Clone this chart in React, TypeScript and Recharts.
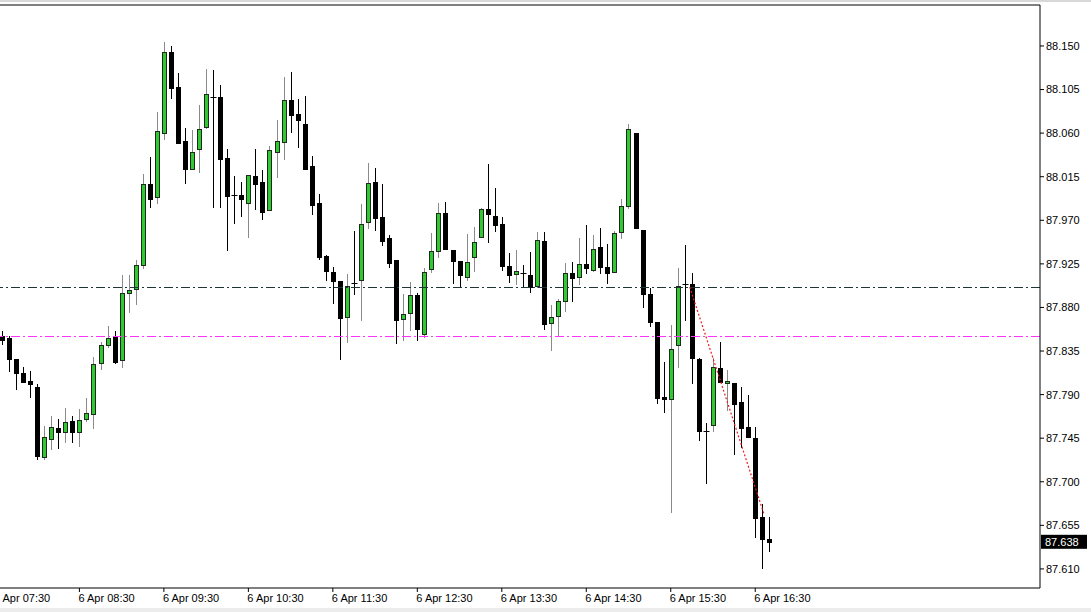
import { ComposedChart, Bar, XAxis, YAxis, ReferenceLine } from 'recharts';

// 5-minute candles, 6 Apr 07:35 .. 16:40
const open = [
  87.850, 87.848, 87.827, 87.812, 87.804, 87.798, 87.726, 87.744, 87.756, 87.751,
  87.763, 87.751, 87.765, 87.770, 87.823, 87.841, 87.849, 87.826, 87.895, 87.899,
  87.924, 88.007, 87.994, 88.060, 88.144, 88.108, 88.052, 88.023, 88.044, 88.066,
  88.097, 88.097, 88.034, 87.996, 87.996, 87.988, 88.016, 88.010, 87.981, 88.041,
  88.051, 88.094, 88.080, 88.069, 88.026, 87.988, 87.933, 87.917, 87.907, 87.870,
  87.905, 87.908, 87.968, 88.010, 87.973, 87.952, 87.929, 87.868, 87.874, 87.893,
  87.853, 87.920, 87.938, 87.978, 87.939, 87.928, 87.911, 87.932, 87.953, 87.982,
  87.974, 87.966, 87.923, 87.915, 87.916, 87.914, 87.902, 87.949, 87.864, 87.871,
  87.887, 87.916, 87.911, 87.925, 87.919, 87.942, 87.922, 87.917, 87.958, 87.985,
  88.060, 87.960, 87.894, 87.865, 87.788, 87.785, 87.841, 87.904, 87.904, 87.827,
  87.752, 87.759, 87.817, 87.802, 87.802, 87.782, 87.757, 87.745, 87.664, 87.641,
];
const high = [
  87.856, 87.850, 87.827, 87.819, 87.814, 87.801, 87.758, 87.768, 87.765, 87.776,
  87.768, 87.775, 87.786, 87.829, 87.844, 87.861, 87.856, 87.914, 87.914, 87.929,
  88.018, 88.035, 88.082, 88.154, 88.150, 88.122, 88.065, 88.063, 88.089, 88.126,
  88.125, 88.110, 88.044, 88.016, 88.010, 88.017, 88.044, 88.022, 88.047, 88.074,
  88.118, 88.123, 88.095, 88.098, 88.036, 87.997, 87.934, 87.922, 87.907, 87.915,
  87.959, 87.987, 88.029, 88.024, 88.007, 87.955, 87.929, 87.894, 87.906, 87.895,
  87.921, 87.957, 87.988, 87.989, 87.939, 87.928, 87.956, 87.963, 87.983, 88.028,
  88.003, 87.973, 87.936, 87.939, 87.924, 87.937, 87.958, 87.958, 87.883, 87.889,
  87.926, 87.927, 87.952, 87.965, 87.955, 87.962, 87.945, 87.959, 87.992, 88.069,
  88.060, 87.960, 87.900, 87.865, 87.824, 87.862, 87.921, 87.944, 87.916, 87.828,
  87.761, 87.828, 87.844, 87.815, 87.802, 87.798, 87.790, 87.757, 87.677, 87.664,
];
const low = [
  87.842, 87.814, 87.796, 87.803, 87.788, 87.724, 87.723, 87.734, 87.735, 87.741,
  87.741, 87.737, 87.763, 87.756, 87.816, 87.839, 87.823, 87.818, 87.875, 87.884,
  87.921, 87.984, 87.988, 88.054, 88.096, 88.050, 88.009, 88.023, 88.020, 88.065,
  87.984, 87.984, 87.939, 87.967, 87.974, 87.953, 87.982, 87.971, 87.981, 88.015,
  88.033, 88.061, 88.046, 88.023, 87.977, 87.930, 87.908, 87.885, 87.827, 87.844,
  87.894, 87.867, 87.962, 87.960, 87.944, 87.922, 87.843, 87.846, 87.857, 87.846,
  87.849, 87.917, 87.932, 87.940, 87.905, 87.901, 87.908, 87.918, 87.953, 87.948,
  87.959, 87.919, 87.906, 87.904, 87.901, 87.896, 87.901, 87.858, 87.836, 87.852,
  87.876, 87.887, 87.904, 87.916, 87.918, 87.916, 87.905, 87.917, 87.952, 87.983,
  87.962, 87.880, 87.861, 87.781, 87.772, 87.669, 87.818, 87.867, 87.802, 87.743,
  87.699, 87.752, 87.803, 87.774, 87.729, 87.736, 87.746, 87.643, 87.611, 87.628,
];
const close = [
  87.846, 87.827, 87.812, 87.803, 87.801, 87.727, 87.746, 87.757, 87.751, 87.762,
  87.751, 87.764, 87.771, 87.822, 87.841, 87.848, 87.824, 87.895, 87.898, 87.924,
  88.007, 87.992, 88.062, 88.144, 88.107, 88.050, 88.023, 88.041, 88.064, 88.100,
  88.097, 88.033, 87.995, 87.996, 87.992, 88.017, 88.007, 87.979, 88.043, 88.052,
  88.094, 88.079, 88.074, 88.023, 87.986, 87.932, 87.918, 87.907, 87.869, 87.902,
  87.905, 87.966, 88.009, 87.972, 87.949, 87.926, 87.867, 87.873, 87.893, 87.858,
  87.917, 87.938, 87.978, 87.940, 87.928, 87.913, 87.927, 87.948, 87.982, 87.977,
  87.965, 87.923, 87.914, 87.918, 87.916, 87.901, 87.950, 87.863, 87.870, 87.887,
  87.916, 87.910, 87.925, 87.921, 87.940, 87.922, 87.916, 87.957, 87.985, 88.064,
  87.962, 87.894, 87.865, 87.787, 87.785, 87.837, 87.902, 87.904, 87.828, 87.752,
  87.752, 87.819, 87.803, 87.804, 87.780, 87.756, 87.746, 87.663, 87.641, 87.638,
];

const timeLabels = [
  '6 Apr 07:30', '6 Apr 08:30', '6 Apr 09:30', '6 Apr 10:30', '6 Apr 11:30',
  '6 Apr 12:30', '6 Apr 13:30', '6 Apr 14:30', '6 Apr 15:30', '6 Apr 16:30',
];
const timeTickIdx = [-1, 11, 23, 35, 47, 59, 71, 83, 95, 107];
const priceTicks = [
  87.61, 87.655, 87.7, 87.745, 87.79, 87.835, 87.88, 87.925, 87.97, 88.015, 88.06, 88.105, 88.15,
];
const priceDomain = [87.5903, 88.1923];
const indexDomain = [-0.28, 147.45];

const pivotLevel = 87.901;
const supportLevel = 87.85;
const trendLine = [
  { x: 97.7, y: 87.901 },
  { x: 108.2, y: 87.6675 },
];

const candles = open.map((o, i) => ({ i, open: o, high: high[i], low: low[i], close: close[i] }));
const lastClose = close[close.length - 1];

const FONT = '"Liberation Sans", Arial, sans-serif';

function Candle(props: any) {
  const { x, y, width, height, payload } = props;
  if (x == null || y == null || !payload) return null;
  const { open: o, high: h, low: l, close: c } = payload;
  const top = Math.min(y, y + height);
  const bottom = Math.max(y, y + height);
  const span = h - l;
  const py = (v: number) => (span > 0 ? top + ((h - v) / span) * (bottom - top) : top);
  const cx = Math.round(x + width / 2) + 0.5;
  const yo = Math.round(py(o));
  const yc = Math.round(py(c));
  const wTop = Math.round(top);
  const wBot = Math.round(bottom);
  const bull = c > o;
  const wick = bull ? '#8a8a8a' : '#000';
  if (c === o) {
    return (
      <g>
        <line x1={cx} x2={cx} y1={wTop} y2={wBot + 1} stroke="#000" strokeWidth={1} />
        <line x1={cx - 3} x2={cx + 3} y1={yo + 0.5} y2={yo + 0.5} stroke="#000" strokeWidth={1} />
      </g>
    );
  }
  const bTop = Math.min(yo, yc);
  const bH = Math.max(1, Math.abs(yc - yo));
  return (
    <g>
      <line x1={cx} x2={cx} y1={wTop} y2={wBot + 1} stroke={wick} strokeWidth={1} />
      {bull ? (
        <rect x={cx - 2} y={bTop + 0.5} width={4} height={Math.max(1, bH)} fill="#32c832" stroke="#1e2a1e" strokeWidth={1} />
      ) : (
        <rect x={cx - 2.5} y={bTop} width={5} height={bH + 1} fill="#000" />
      )}
    </g>
  );
}

function TimeTick(props: any) {
  const { x, y, payload } = props;
  const label = timeLabels[timeTickIdx.indexOf(payload.value)];
  return (
    <text x={x - 1} y={y} dy="0.71em" textAnchor="start" fill="#000" fontSize={11} fontFamily={FONT}>
      {label}
    </text>
  );
}

function PriceTag(props: any) {
  const vb = props.viewBox;
  if (!vb) return null;
  const left = vb.x + vb.width + 1;
  return (
    <g>
      <rect x={left} y={vb.y - 7} width={46} height={14} fill="#000" />
      <text x={left + 4} y={vb.y} dy="0.36em" fill="#fff" fontSize={11} fontFamily={FONT}>
        {lastClose.toFixed(3)}
      </text>
    </g>
  );
}

export default function App() {
  return (
    <div style={{ position: 'fixed', left: 0, top: 0, width: 1091, height: 612, background: '#fff', overflow: 'hidden' }}>
      <div style={{ position: 'absolute', left: 0, top: 0, width: 1091, height: 2, background: '#d8d8d8' }} />
      <div style={{ position: 'absolute', left: 0, top: 608, width: 1091, height: 4, background: '#ececec' }} />
      <ComposedChart
        width={1091}
        height={612}
        data={candles}
        margin={{ top: 5, right: 0, bottom: 0, left: 0 }}
        style={{ position: 'absolute', left: 0, top: 0 }}
      >
        <XAxis
          dataKey="i"
          type="number"
          domain={indexDomain}
          allowDataOverflow
          ticks={timeTickIdx}
          interval={0}
          height={24}
          tickSize={4}
          tickMargin={2}
          axisLine={{ stroke: '#000' }}
          tickLine={{ stroke: '#000' }}
          tick={<TimeTick />}
        />
        <YAxis
          orientation="right"
          type="number"
          domain={priceDomain}
          allowDataOverflow
          ticks={priceTicks}
          interval={0}
          width={51}
          tickSize={4}
          tickMargin={2}
          axisLine={{ stroke: '#000' }}
          tickLine={{ stroke: '#000' }}
          tick={{ fill: '#000', fontSize: 11, fontFamily: FONT }}
          tickFormatter={(v: number) => v.toFixed(3)}
        />
        <ReferenceLine y={priceDomain[1]} stroke="#000" ifOverflow="visible" />
        <ReferenceLine y={pivotLevel} stroke="#1f3535" strokeDasharray="9 3 2 3" shapeRendering="crispEdges" />
        <ReferenceLine y={supportLevel} stroke="#ff33ff" strokeDasharray="9 3 2 3" shapeRendering="crispEdges" />
        <Bar
          dataKey={(d: any) => [d.low, d.high]}
          barSize={5}
          shape={<Candle />}
          isAnimationActive={false}
        />
        <ReferenceLine segment={trendLine} stroke="#ee1c1c" strokeWidth={1.2} strokeDasharray="2 2" ifOverflow="visible" />
        <ReferenceLine y={lastClose} stroke="none" label={<PriceTag />} ifOverflow="visible" />
      </ComposedChart>
    </div>
  );
}
